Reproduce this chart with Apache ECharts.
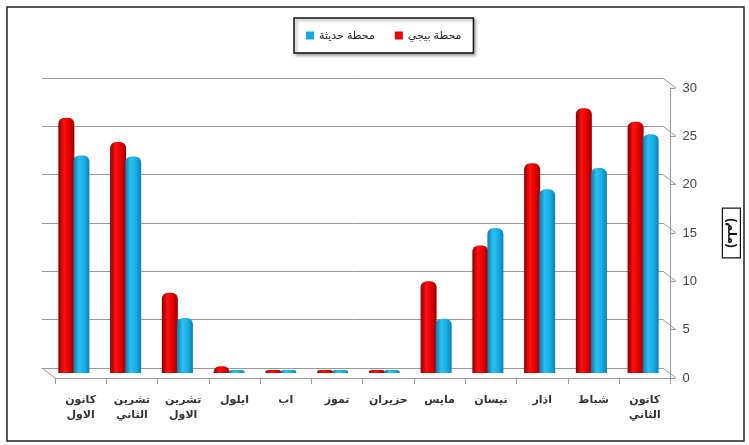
<!DOCTYPE html>
<html>
<head>
<meta charset="utf-8">
<script src="https://cdn.jsdelivr.net/npm/echarts@6/dist/echarts.min.js"></script>
<style>
  html, body { margin: 0; padding: 0; background: #fff; }
  #chart { width: 749px; height: 445px; }
</style>
</head>
<body>
<div id="chart"></div>
<script>
// months, left to right as in the original (axis runs right-to-left)
const months = ['كانون\nالاول', 'تشرين\nالثاني', 'تشرين\nالاول', 'ايلول', 'اب', 'تموز', 'حزيران', 'مايس', 'نيسان', 'اذار', 'شباط', 'كانون\nالثاني'];
const baiji = [26.4, 23.9, 8.3, 0.7, 0, 0, 0, 9.5, 13.2, 21.7, 27.4, 26.0];
const haditha = [22.5, 22.4, 5.7, 0, 0, 0, 0, 5.6, 15.0, 19.0, 21.2, 24.7];
const yTicks = [0, 5, 10, 15, 20, 25, 30];

const seriesNames = ['محطة بيجي', 'محطة حديثة'];
const font = '"Liberation Sans", "DejaVu Sans", Arial, sans-serif';

// back wall / front / middle (bars) grids fake the 3D look
const back = { left: 42, right: 86, top: 78, bottom: 77 };
const front = { left: 55, right: 73, top: 88, bottom: 67 };
const mid = { left: 48, right: 80, top: 83, bottom: 72 };
const W = 749, H = 445;

const chart = echarts.init(document.getElementById('chart'));

function cyl(dark, light, mid2, dark2) {
  return {
    type: 'linear', x: 0, y: 0, x2: 1, y2: 0,
    colorStops: [
      { offset: 0, color: dark },
      { offset: 0.35, color: light },
      { offset: 0.7, color: mid2 },
      { offset: 1, color: dark2 }
    ]
  };
}

// connectors from back wall to front axis
const yMax = 30;
const connectors = yTicks.map(v => {
  const yb = back.top + (H - back.top - back.bottom) * (1 - v / yMax);
  const yf = front.top + (H - front.top - front.bottom) * (1 - v / yMax);
  return {
    type: 'line',
    shape: { x1: W - back.right, y1: yb, x2: W - front.right, y2: yf },
    style: { stroke: '#999', lineWidth: 1 }
  };
});
connectors.push({
  type: 'line',
  shape: { x1: back.left, y1: H - back.bottom, x2: front.left, y2: H - front.bottom },
  style: { stroke: '#999', lineWidth: 1 }
});

const option = {
  animation: false,
  textStyle: { fontFamily: font },
  graphic: [
    {
      type: 'rect',
      shape: { x: 7, y: 7, width: 737, height: 434 },
      style: { fill: 'none', stroke: '#222', lineWidth: 1.5 }
    }
  ].concat(connectors),
  legend: {
    top: 18,
    left: 294,
    padding: [12, 12],
    itemGap: 20,
    itemWidth: 8,
    itemHeight: 8,
    icon: 'rect',
    borderColor: '#111',
    borderWidth: 1.5,
    shadowColor: 'rgba(0,0,0,0.35)',
    shadowBlur: 3,
    shadowOffsetX: 2,
    shadowOffsetY: 2,
    backgroundColor: '#fff',
    textStyle: { fontSize: 11, color: '#222', fontFamily: font },
    data: [
      { name: seriesNames[1], itemStyle: { color: '#1aa8e0' } },
      { name: seriesNames[0], itemStyle: { color: '#e8000b' } }
    ]
  },
  grid: [
    Object.assign({}, back),
    Object.assign({}, front),
    Object.assign({}, mid)
  ],
  xAxis: [
    {
      gridIndex: 0, type: 'category', data: months,
      axisLine: { lineStyle: { color: '#999' } },
      axisTick: { show: false }, axisLabel: { show: false }
    },
    {
      gridIndex: 1, type: 'category', data: months,
      axisLine: { lineStyle: { color: '#999' } },
      axisTick: { show: true, length: 6, lineStyle: { color: '#999' } },
      axisLabel: { margin: 14, fontSize: 11, fontWeight: 'bold', lineHeight: 15, color: '#333', fontFamily: font }
    },
    {
      gridIndex: 2, type: 'category', data: months,
      axisLine: { show: false }, axisTick: { show: false }, axisLabel: { show: false }
    }
  ],
  yAxis: [
    {
      gridIndex: 0, type: 'value', min: 0, max: 30, interval: 5,
      axisLine: { show: false }, axisTick: { show: false }, axisLabel: { show: false },
      splitLine: { lineStyle: { color: '#999', width: 1 } }
    },
    {
      gridIndex: 1, type: 'value', min: 0, max: 30, interval: 5, position: 'right',
      axisLine: { show: true, lineStyle: { color: '#999' } },
      axisTick: { show: true, length: 5, lineStyle: { color: '#999' } },
      axisLabel: { margin: 12, fontSize: 13, color: '#444', fontFamily: font },
      splitLine: { show: false },
      name: '(ملم)',
      nameLocation: 'middle',
      nameRotate: -90,
      nameGap: 52,
      nameTextStyle: {
        fontSize: 12, fontWeight: 'bold', color: '#111', fontFamily: font,
        borderColor: '#111', borderWidth: 1.2, padding: [3, 10]
      }
    },
    {
      gridIndex: 2, type: 'value', min: 0, max: 30, interval: 5,
      axisLine: { show: false }, axisTick: { show: false }, axisLabel: { show: false },
      splitLine: { show: false }
    }
  ],
  series: [
    {
      name: seriesNames[0], type: 'bar', xAxisIndex: 2, yAxisIndex: 2,
      data: baiji, barWidth: 16, barGap: '-6%', barMinHeight: 3,
      itemStyle: { color: cyl('#8a0000', '#ff1010', '#e00000', '#9c0000'), borderRadius: [6, 6, 0, 0] }
    },
    {
      name: seriesNames[1], type: 'bar', xAxisIndex: 2, yAxisIndex: 2,
      data: haditha, barWidth: 16, barMinHeight: 3,
      itemStyle: { color: cyl('#0a78a8', '#2cc0f0', '#16ace2', '#0a80b4'), borderRadius: [6, 6, 0, 0] }
    }
  ]
};

chart.setOption(option);
</script>
</body>
</html>
